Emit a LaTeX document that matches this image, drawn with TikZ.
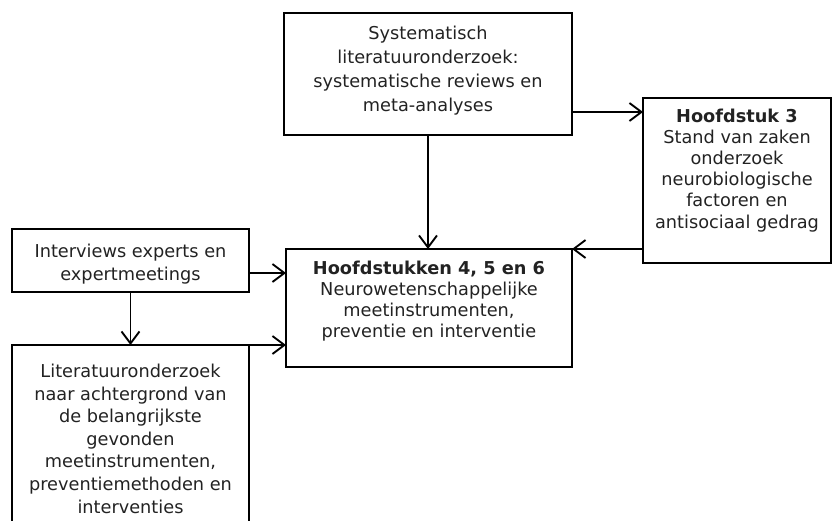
\documentclass[tikz,border=0pt]{standalone}
\usepackage{fontspec}
\setmainfont{DejaVu Sans}
\usetikzlibrary{arrows.meta}
\definecolor{ink}{HTML}{222222}
\tikzset{
  box/.style={draw=black, line width=1.8pt, inner sep=0pt, outer sep=0pt, anchor=north west},
  txt/.style={align=center, text=ink, inner sep=0pt, anchor=base},
  arr/.style={line width=1.4pt, -{Straight Barb[length=9pt, width=13.5pt, line width=1.4pt]}},
}
\newcommand{\fs}[1]{\fontsize{13.3}{#1}\selectfont}
\begin{document}
\begin{tikzpicture}[x=0.75pt, y=-0.75pt]
\clip (0,0) rectangle (833,521);
\useasboundingbox (0,0) rectangle (833,521);

% boxes
\node[box, minimum width=216pt, minimum height=91.5pt] (sys) at (284,13) {};
\node[box, minimum width=141pt, minimum height=123.75pt] (h3) at (643,98) {};
\node[box, minimum width=214.5pt, minimum height=88.5pt] (main) at (286,249) {};
\node[box, minimum width=177.75pt, minimum height=47.25pt] (inter) at (12,229) {};
\node[box, minimum width=177.75pt, minimum height=150pt] (lit) at (12,345) {};

% texts (anchored at the baseline of their last line)
\node[txt, font=\fs{18pt}] (tsys) at (428,111)
  {Systematisch\\literatuuronderzoek:\\systematische reviews en\\meta-analyses};
\node[txt, font=\fs{15.9pt}] (th3) at (737,228)
  {\textbf{Hoofdstuk 3}\\Stand van zaken\\onderzoek\\neurobiologische\\factoren en\\antisociaal gedrag};
\node[txt, font=\fs{15.6pt}] (tmain) at (429,337)
  {\textbf{Hoofdstukken 4, 5 en 6}\\Neurowetenschappelijke\\meetinstrumenten,\\preventie en interventie};
\node[txt, font=\fs{17.2pt}] (tinter) at (130.5,280)
  {Interviews experts en\\expertmeetings};
\node[txt, font=\fs{16.9pt}] (tlit) at (130.5,513)
  {Literatuuronderzoek\\naar achtergrond van\\de belangrijkste\\gevonden\\meetinstrumenten,\\preventiemethoden en\\interventies};

% connector levels
\coordinate (ya) at (0,112);
\coordinate (yb) at (0,249);
\coordinate (yc) at (0,273);

% connectors
\draw[arr] (sys.south) -- (sys.south |- main.north);
\draw[arr] (sys.east |- ya) -- (h3.west |- ya);
\draw[arr] (h3.west |- yb) -- (main.east |- yb);
\draw[arr] (inter.east |- yc) -- (main.west |- yc);
\draw[arr] (inter.south) -- (lit.north);
\draw[arr] (lit.north east) -- (main.west |- lit.north east);
\end{tikzpicture}
\end{document}
